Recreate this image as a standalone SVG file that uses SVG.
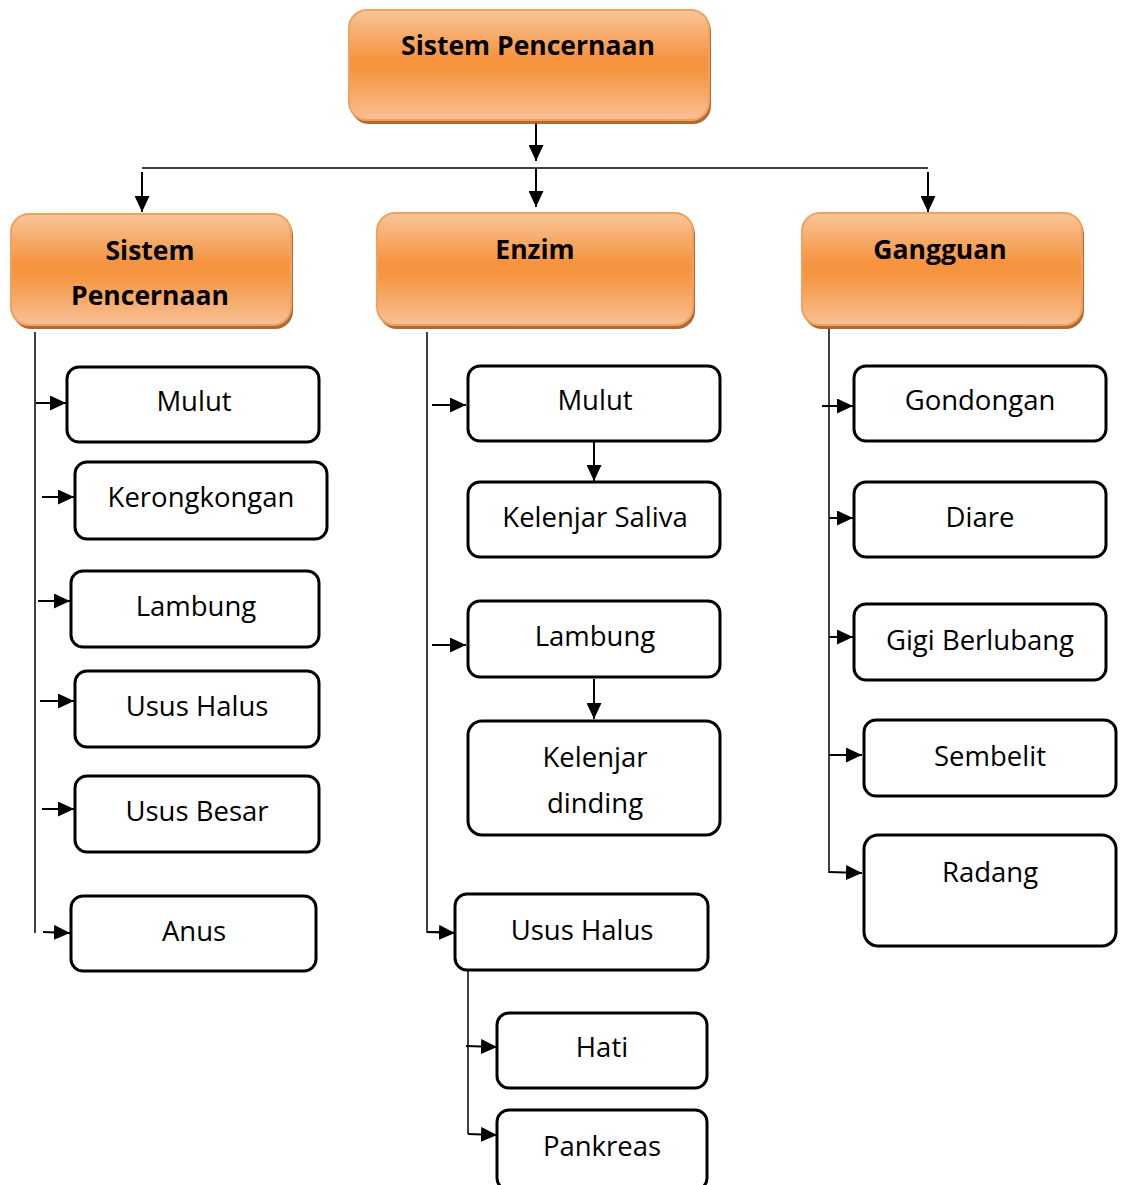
<svg xmlns="http://www.w3.org/2000/svg" width="1121" height="1185" viewBox="0 0 1121 1185">
<defs>
<linearGradient id="og" x1="0" y1="0" x2="0" y2="1">
<stop offset="0" stop-color="#F9C599"/>
<stop offset="0.45" stop-color="#F5933F"/>
<stop offset="0.55" stop-color="#F5953F"/>
<stop offset="1" stop-color="#F9C095"/>
</linearGradient>
<marker id="ah" viewBox="0 0 10 10" refX="10" refY="5" markerWidth="8" markerHeight="7.5" orient="auto" markerUnits="strokeWidth" preserveAspectRatio="none">
<path d="M0,0 L10,5 L0,10 Z" fill="#000"/>
</marker>
</defs>
<style>
.hd rect.sh{fill:#A9581C;opacity:0.9}
.hd rect.bx{fill:url(#og);stroke:#F0A15E;stroke-width:2}
.hd text{font-family:"Open Sans","Liberation Sans",sans-serif;font-weight:bold;font-size:26.5px;fill:#000;text-anchor:middle}
.nd rect{fill:#fff;stroke:#000;stroke-width:3}
.nd text{font-family:"Open Sans","Liberation Sans",sans-serif;font-size:27.5px;fill:#000;text-anchor:middle}
.c{stroke:#000;fill:none;stroke-width:2}
.t{stroke:#000;fill:none;stroke-width:1.5}
</style>

<g id="connectors">
<line class="c" x1="536" y1="122" x2="536" y2="161" marker-end="url(#ah)"/>
<line class="t" x1="142" y1="168" x2="928" y2="168"/>
<line class="c" x1="142" y1="172" x2="142" y2="212" marker-end="url(#ah)"/>
<line class="c" x1="536" y1="168" x2="536" y2="207" marker-end="url(#ah)"/>
<line class="c" x1="928" y1="172" x2="928" y2="212" marker-end="url(#ah)"/>

<line class="t" x1="35" y1="332" x2="35" y2="933"/>
<line class="c" x1="36" y1="403" x2="66" y2="403" marker-end="url(#ah)"/>
<line class="c" x1="42" y1="497" x2="74" y2="497" marker-end="url(#ah)"/>
<line class="c" x1="38" y1="601" x2="70" y2="601" marker-end="url(#ah)"/>
<line class="c" x1="40" y1="701" x2="74" y2="701" marker-end="url(#ah)"/>
<line class="c" x1="42" y1="809" x2="74" y2="809" marker-end="url(#ah)"/>
<line class="c" x1="43" y1="932" x2="70" y2="933" marker-end="url(#ah)"/>

<polyline class="t" points="427,332 427,932 440,932"/>
<line class="c" x1="427" y1="932" x2="455" y2="933" marker-end="url(#ah)"/>
<line class="c" x1="432" y1="405" x2="466" y2="405" marker-end="url(#ah)"/>
<line class="c" x1="594" y1="442" x2="594" y2="481" marker-end="url(#ah)"/>
<line class="c" x1="432" y1="645" x2="466" y2="645" marker-end="url(#ah)"/>
<line class="c" x1="594" y1="679" x2="594" y2="719" marker-end="url(#ah)"/>

<line class="t" x1="468" y1="971" x2="468" y2="1134"/>
<line class="c" x1="466" y1="1046" x2="497" y2="1047" marker-end="url(#ah)"/>
<line class="c" x1="468" y1="1134" x2="497" y2="1135" marker-end="url(#ah)"/>

<line class="t" x1="829" y1="328" x2="829" y2="873"/>
<line class="c" x1="822" y1="406" x2="853" y2="406" marker-end="url(#ah)"/>
<line class="c" x1="829" y1="518" x2="853" y2="518" marker-end="url(#ah)"/>
<line class="c" x1="829" y1="637" x2="853" y2="637" marker-end="url(#ah)"/>
<line class="c" x1="829" y1="755" x2="862" y2="755" marker-end="url(#ah)"/>
<line class="c" x1="829" y1="872" x2="862" y2="873" marker-end="url(#ah)"/>
</g>

<g id="top" class="hd">
<rect class="sh" x="351" y="13" width="360" height="111" rx="18"/>
<rect class="bx" x="349" y="10" width="360" height="110" rx="18"/>
<text x="528" y="55">Sistem Pencernaan</text>
</g>
<g id="h-sistem" class="hd">
<rect class="sh" x="13" y="217" width="280" height="112" rx="18"/>
<rect class="bx" x="11" y="214" width="280" height="111" rx="18"/>
<text x="150" y="260">Sistem</text>
<text x="150" y="305">Pencernaan</text>
</g>
<g id="h-enzim" class="hd">
<rect class="sh" x="379" y="216" width="316" height="113" rx="18"/>
<rect class="bx" x="377" y="213" width="316" height="112" rx="18"/>
<text x="535" y="259">Enzim</text>
</g>
<g id="h-gangguan" class="hd">
<rect class="sh" x="804" y="216" width="280" height="113" rx="18"/>
<rect class="bx" x="802" y="213" width="280" height="112" rx="18"/>
<text x="940" y="259">Gangguan</text>
</g>

<g id="s-mulut" class="nd"><rect x="67" y="367" width="252" height="75" rx="12"/><text x="194" y="411">Mulut</text></g>
<g id="s-kerongkongan" class="nd"><rect x="75" y="462" width="252" height="77" rx="12"/><text x="201" y="507">Kerongkongan</text></g>
<g id="s-lambung" class="nd"><rect x="71" y="571" width="248" height="76" rx="12"/><text x="196" y="616">Lambung</text></g>
<g id="s-usushalus" class="nd"><rect x="75" y="671" width="244" height="76" rx="12"/><text x="197" y="716">Usus Halus</text></g>
<g id="s-ususbesar" class="nd"><rect x="75" y="776" width="244" height="76" rx="12"/><text x="197" y="821">Usus Besar</text></g>
<g id="s-anus" class="nd"><rect x="71" y="896" width="245" height="75" rx="12"/><text x="194" y="941">Anus</text></g>

<g id="e-mulut" class="nd"><rect x="468" y="366" width="252" height="75" rx="12"/><text x="595" y="410">Mulut</text></g>
<g id="e-saliva" class="nd"><rect x="468" y="482" width="252" height="75" rx="12"/><text x="595" y="527">Kelenjar Saliva</text></g>
<g id="e-lambung" class="nd"><rect x="468" y="601" width="252" height="76" rx="12"/><text x="595" y="646">Lambung</text></g>
<g id="e-dinding" class="nd"><rect x="468" y="721" width="252" height="114" rx="14"/><text x="595" y="767">Kelenjar</text><text x="595" y="813">dinding</text></g>
<g id="e-usushalus" class="nd"><rect x="455" y="894" width="253" height="76" rx="12"/><text x="582" y="940">Usus Halus</text></g>
<g id="e-hati" class="nd"><rect x="497" y="1013" width="210" height="75" rx="12"/><text x="602" y="1057">Hati</text></g>
<g id="e-pankreas" class="nd"><rect x="497" y="1110" width="210" height="80" rx="12"/><text x="602" y="1156">Pankreas</text></g>

<g id="g-gondongan" class="nd"><rect x="854" y="366" width="252" height="75" rx="12"/><text x="980" y="410">Gondongan</text></g>
<g id="g-diare" class="nd"><rect x="854" y="482" width="252" height="75" rx="12"/><text x="980" y="527">Diare</text></g>
<g id="g-gigi" class="nd"><rect x="854" y="604" width="252" height="76" rx="12"/><text x="980" y="650">Gigi Berlubang</text></g>
<g id="g-sembelit" class="nd"><rect x="864" y="720" width="252" height="76" rx="12"/><text x="990" y="766">Sembelit</text></g>
<g id="g-radang" class="nd"><rect x="864" y="835" width="252" height="111" rx="14"/><text x="990" y="882">Radang</text></g>
</svg>
